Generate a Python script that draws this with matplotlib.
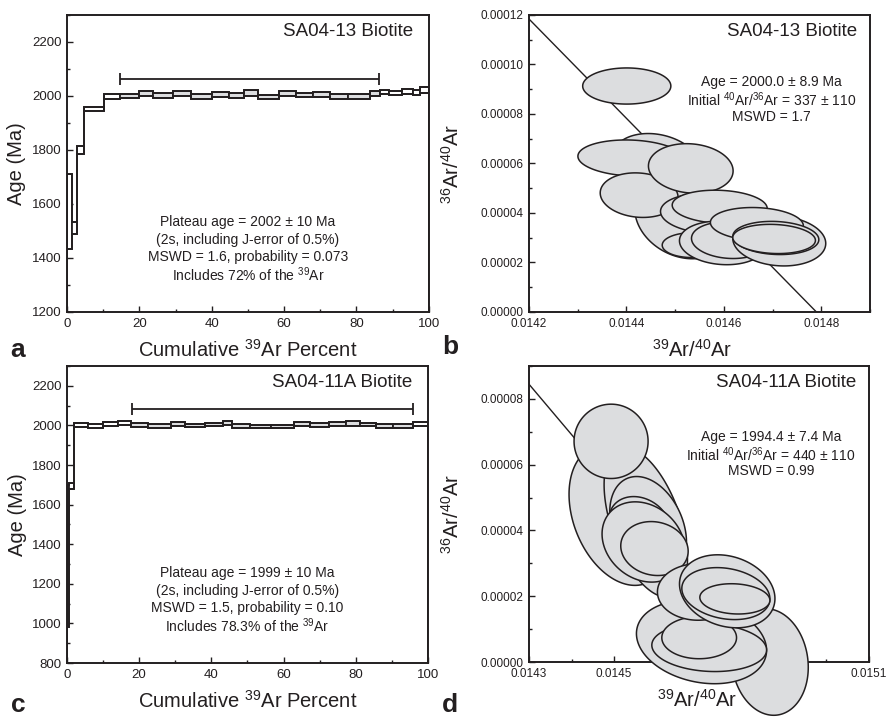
import matplotlib
matplotlib.use("Agg")
import matplotlib.pyplot as plt
import numpy as np
from matplotlib.patches import Polygon
from matplotlib.ticker import MultipleLocator, FixedLocator, FormatStrFormatter

plt.rcParams['font.family'] = ['Liberation Sans', 'DejaVu Sans']
plt.rcParams['mathtext.fontset'] = 'custom'
plt.rcParams['mathtext.rm'] = 'Liberation Sans'
plt.rcParams['mathtext.it'] = 'Liberation Sans:italic'
plt.rcParams['mathtext.bf'] = 'Liberation Sans:bold'

INK = '#231f20'
GREY = '#dcdddf'

# --- age spectrum SA04-13 (panel a)
a_edges = [0, 1.4, 2.7, 4.7, 10.3, 14.6, 20.0, 23.8, 29.3, 34.3, 40.1, 44.7, 49.0,
           52.7, 58.7, 63.3, 68.0, 72.7, 77.6, 83.6, 86.4, 88.9, 92.6, 95.5, 97.6, 100]
a_age = [1572, 1512, 1800, 1951, 1998, 2001, 2009, 2002, 2009, 1998, 2006, 2001, 2011,
         1997, 2008, 2005, 2005, 1999, 1999, 2009, 2015, 2011, 2017, 2014, 2022]
a_err = [138, 22, 15, 8, 8, 8, 9, 8, 9, 8, 9, 8.5, 10, 8, 9, 7.5, 8, 8.5, 8.5, 9,
         8, 9, 9, 9, 10]
a_plateau = (14.6, 86.4)
a_bar = (14.7, 86.1, 2064)

# --- age spectrum SA04-11A (panel c)
c_edges = [0, 0.55, 1.85, 5.8, 10.0, 14.1, 17.8, 22.4, 28.9, 32.6, 38.1, 43.2, 45.8,
           50.6, 56.5, 63.0, 67.2, 72.7, 77.3, 81.2, 85.6, 90.2, 95.8, 100]
c_age = [1340, 1693, 2003, 1997, 2005, 2013, 2002, 1997, 2007, 1999, 2004, 2011, 1996,
         1995, 1995, 2007, 2002, 2007, 2009, 2004, 1995, 1996, 2009]
c_err = [360, 14, 8.5, 10, 10, 10, 9, 9, 10, 9, 9, 11, 9, 8.5, 8.5, 10, 9, 10, 11, 9,
         10, 9, 10]
c_plateau = (17.8, 95.8)
c_bar = (18.1, 95.8, 2083)

# --- inverse isochron SA04-13 (panel b)
b_x = [0.0144007, 0.0144629, 0.0145159, 0.0144099, 0.0144261, 0.0145321, 0.0145336,
       0.0145689, 0.0145915, 0.0145972, 0.0146113, 0.0147138, 0.0146678, 0.0147067,
       0.0147032]
b_y = [9.13e-5, 6.00e-5, 3.84e-5, 6.22e-5, 4.72e-5, 5.80e-5, 2.70e-5, 3.98e-5,
       4.25e-5, 2.79e-5, 2.90e-5, 2.87e-5, 3.55e-5, 2.99e-5, 2.95e-5]
b_sx = [9.05e-5, 9.19e-5, 9.89e-5, 1.095e-4, 7.99e-5, 8.69e-5, 6.01e-5, 9.89e-5,
        9.75e-5, 8.83e-5, 7.77e-5, 9.54e-5, 9.54e-5, 8.83e-5, 8.48e-5]
b_sy = [7.3e-6, 1.21e-5, 1.69e-5, 7.3e-6, 9.0e-6, 1.0e-5, 5.0e-6, 8.1e-6, 6.7e-6,
        8.8e-6, 7.4e-6, 1.01e-5, 6.7e-6, 6.7e-6, 5.9e-6]
b_rho = [0.0, -0.2, -0.2, -0.1, -0.1, -0.1, 0.0, -0.1, -0.1, -0.1, -0.1, -0.1, -0.1,
         -0.1, -0.1]
b_initial = 337.0
b_xint = 0.01479
b_xticks = [0.0142, 0.0144, 0.0146, 0.0148]

# --- inverse isochron SA04-11A (panel d)
d_x = [0.0148668, 0.0145135, 0.0145748, 0.0145803, 0.0145607, 0.0145693, 0.0145952,
       0.0144931, 0.0147059, 0.0147240, 0.0147004, 0.0146980, 0.0147664, 0.0147632,
       0.0147844]
d_y = [0.0, 4.46e-5, 4.25e-5, 4.10e-5, 4.18e-5, 3.65e-5, 3.45e-5, 6.71e-5, 6.1e-6,
       4.4e-6, 7.4e-6, 2.13e-5, 2.15e-5, 2.08e-5, 1.92e-5]
d_sx = [9.03e-5, 1.193e-4, 9.81e-5, 9.03e-5, 7.22e-5, 9.74e-5, 7.93e-5, 8.71e-5,
        1.531e-4, 1.350e-4, 8.79e-5, 9.58e-5, 1.123e-4, 1.036e-4, 8.24e-5]
d_sy = [1.62e-5, 2.13e-5, 2.28e-5, 1.54e-5, 8.5e-6, 1.22e-5, 8.2e-6, 1.13e-5,
        1.27e-5, 7.3e-6, 6.4e-6, 8.6e-6, 1.11e-5, 7.9e-6, 4.6e-6]
d_rho = [-0.1, -0.3, -0.5, -0.3, -0.2, -0.2, -0.1, 0.0, -0.2, -0.1, 0.0, 0.0, -0.2,
         -0.2, -0.1]
d_initial = 440.0
d_xint = 0.014852
d_xticks = [0.0143, 0.0145, 0.0147, 0.0149, 0.0151]

a_text = ["Plateau age = 2002 ± 10 Ma", "(2s, including J-error of 0.5%)",
          "MSWD = 1.6, probability = 0.073", "Includes 72% of the $^{39}$Ar"]
c_text = ["Plateau age = 1999 ± 10 Ma", "(2s, including J-error of 0.5%)",
          "MSWD = 1.5, probability = 0.10", "Includes 78.3% of the $^{39}$Ar"]
b_text = ["Age = 2000.0 ± 8.9 Ma", "Initial $^{40}$Ar/$^{36}$Ar = 337 ± 110", "MSWD = 1.7"]
d_text = ["Age = 1994.4 ± 7.4 Ma", "Initial $^{40}$Ar/$^{36}$Ar = 440 ± 110", "MSWD = 0.99"]


def style_axes(ax, size):
    for s in ax.spines.values():
        s.set_linewidth(1.4)
        s.set_color(INK)
    ax.tick_params(which='both', direction='in', top=False, right=False,
                   colors=INK, width=1.0, labelsize=size, pad=4)
    ax.tick_params(which='major', length=4)
    ax.tick_params(which='minor', length=2.5)


def spectrum(ax, edges, age, err, plateau, bar, ymin, title, lines):
    edges = np.array(edges)
    age = np.array(age)
    err = np.array(err)
    left = edges[:-1]
    width = np.diff(edges)
    colors = [GREY if (l >= plateau[0] - 1e-6 and r <= plateau[1] + 1e-6) else 'white'
              for l, r in zip(edges[:-1], edges[1:])]
    ax.bar(left, 2 * err, bottom=age - err, width=width, align='edge', color=colors,
           edgecolor=INK, linewidth=1.3, zorder=2)
    ax.stairs(age + err, edges, color=INK, linewidth=1.3, zorder=3)
    ax.stairs(age - err, edges, color=INK, linewidth=1.3, zorder=3)
    mid = (bar[0] + bar[1]) / 2
    ax.errorbar([mid], [bar[2]], xerr=[(bar[1] - bar[0]) / 2], fmt='none', ecolor=INK,
                elinewidth=1.3, capsize=4, capthick=1.3)
    ax.set_xlim(0, 100)
    ax.set_ylim(ymin, 2300)
    ax.xaxis.set_major_locator(MultipleLocator(20))
    ax.xaxis.set_minor_locator(MultipleLocator(10))
    ax.yaxis.set_major_locator(MultipleLocator(200))
    ax.yaxis.set_minor_locator(MultipleLocator(100))
    style_axes(ax, 9.5)
    ax.set_xlabel("Cumulative $^{39}$Ar Percent", fontsize=14.5, color=INK)
    ax.xaxis.set_label_coords(0.5, -0.092)
    ax.set_ylabel("Age (Ma)", fontsize=14.5, color=INK)
    ax.yaxis.set_label_coords(-0.112, 0.5)
    ax.text(0.957, 0.943, title, transform=ax.transAxes, ha='right', va='center',
            fontsize=13.5, color=INK)
    for k, s in enumerate(lines):
        ax.text(0.5, 0.302 - k * 0.059, s, transform=ax.transAxes, ha='center',
                va='center', fontsize=10, color=INK)


def isochron(ax, xs, ys, sxs, sys_, rhos, initial, xint, xlim, ylim, xticks, title,
             lines, tx, ty):
    lx = np.array([xlim[0], xint])
    ly = (1.0 / initial) * (1 - lx / xint)
    ax.plot(lx, ly, color=INK, linewidth=1.0, zorder=2, clip_on=True)
    t = np.linspace(0, 2 * np.pi, 240)
    for cx, cy, sx, sy, r in zip(xs, ys, sxs, sys_, rhos):
        ex = cx + sx * np.cos(t)
        ey = cy + sy * (r * np.cos(t) + np.sqrt(1 - r * r) * np.sin(t))
        ax.add_patch(Polygon(np.column_stack([ex, ey]), closed=True, facecolor=GREY,
                             edgecolor=INK, linewidth=1.1, zorder=4, clip_on=False))
    ax.set_xlim(*xlim)
    ax.set_ylim(*ylim)
    ax.xaxis.set_major_locator(FixedLocator(xticks))
    ax.xaxis.set_minor_locator(MultipleLocator(0.0001))
    ax.yaxis.set_major_locator(MultipleLocator(0.00002))
    ax.yaxis.set_minor_locator(MultipleLocator(0.00001))
    ax.xaxis.set_major_formatter(FormatStrFormatter('%.4f'))
    ax.yaxis.set_major_formatter(FormatStrFormatter('%.5f'))
    style_axes(ax, 8.5)
    ax.set_xlabel("$^{39}$Ar/$^{40}$Ar", fontsize=14.5, color=INK)
    ax.xaxis.set_label_coords(tx, -0.092)
    ax.set_ylabel("$^{36}$Ar/$^{40}$Ar", fontsize=14.5, color=INK)
    ax.yaxis.set_label_coords(-0.194, 0.5)
    ax.text(0.962, 0.943, title, transform=ax.transAxes, ha='right', va='center',
            fontsize=13.5, color=INK)
    for k, s in enumerate(lines):
        ax.text(0.712, ty - k * 0.058, s, transform=ax.transAxes, ha='center',
                va='center', fontsize=10, color=INK)


fig = plt.figure(figsize=(8.87, 7.17), dpi=100)
ax_a = fig.add_axes([0.0755, 0.5649, 0.408, 0.4142])
ax_b = fig.add_axes([0.5964, 0.5649, 0.3844, 0.4142])
ax_c = fig.add_axes([0.0755, 0.0753, 0.407, 0.4142])
ax_d = fig.add_axes([0.5964, 0.0767, 0.3833, 0.4128])

spectrum(ax_a, a_edges, a_age, a_err, a_plateau, a_bar, 1200, "SA04-13 Biotite", a_text)
spectrum(ax_c, c_edges, c_age, c_err, c_plateau, c_bar, 800, "SA04-11A Biotite", c_text)
isochron(ax_b, b_x, b_y, b_sx, b_sy, b_rho, b_initial, b_xint, (0.0142, 0.0149),
         (0, 0.00012), b_xticks, "SA04-13 Biotite", b_text, 0.478, 0.774)
isochron(ax_d, d_x, d_y, d_sx, d_sy, d_rho, d_initial, d_xint, (0.0143, 0.0151),
         (0, 0.00009), d_xticks, "SA04-11A Biotite", d_text, 0.494, 0.76)

for lab, x, y in [('a', 10, 357), ('b', 442, 354), ('c', 11, 712), ('d', 442, 712)]:
    fig.text(x / 887, 1 - y / 717, lab, fontsize=19, fontweight='bold', color=INK,
             ha='left', va='baseline')

fig.savefig("out.png", dpi=100)
